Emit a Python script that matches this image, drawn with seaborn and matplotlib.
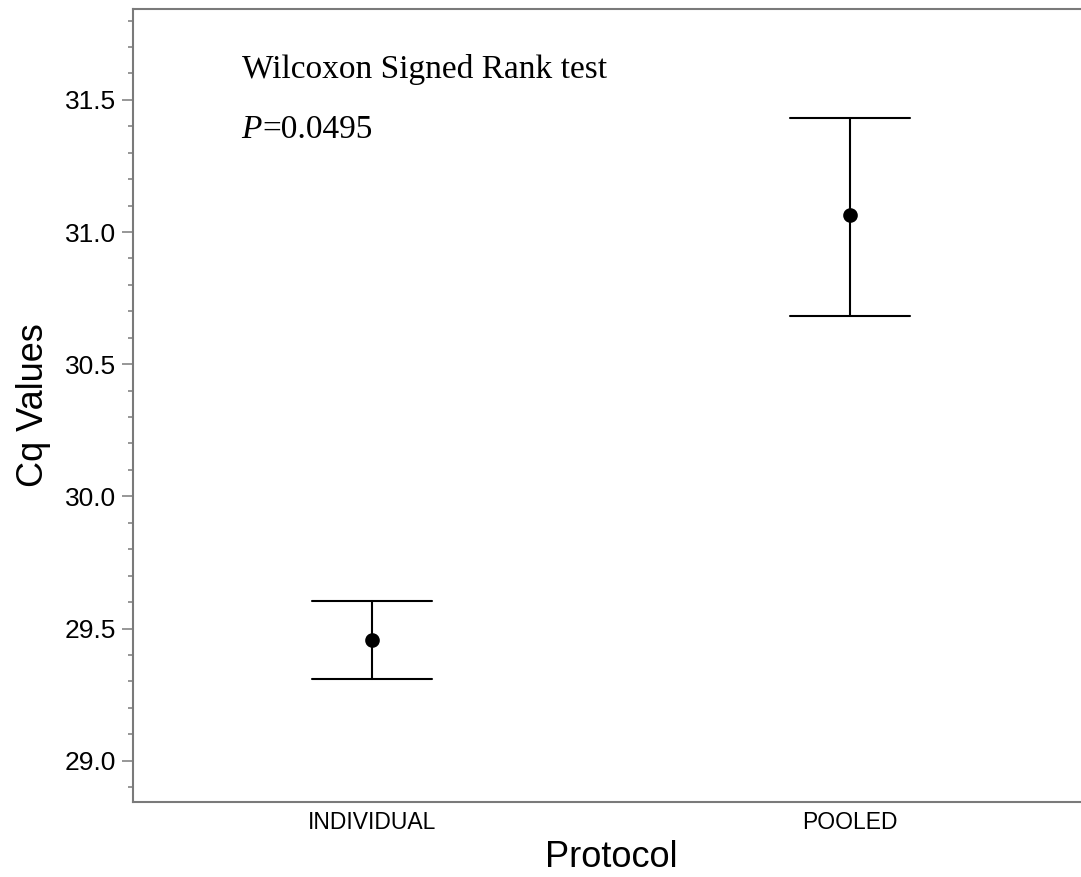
import pandas as pd
import seaborn as sns
import matplotlib.pyplot as plt
from matplotlib.ticker import MultipleLocator

# values (mean with lower / upper whisker)
protocols = ["INDIVIDUAL", "POOLED"]
cq_mean = [29.457, 31.065]
cq_lower = [29.308, 30.684]
cq_upper = [29.604, 31.433]

# long table: median of [lower, mean, upper] is the mean, the full range is the bar
rows = []
for p, lo, m, hi in zip(protocols, cq_lower, cq_mean, cq_upper):
    for v in (lo, m, hi):
        rows.append({"Protocol": p, "Cq": v})
df = pd.DataFrame(rows)

sns.set_style("white")
plt.rcParams["font.family"] = ["Liberation Sans", "DejaVu Sans"]
plt.rcParams["text.color"] = "black"
plt.rcParams["axes.labelcolor"] = "black"
plt.rcParams["xtick.labelcolor"] = "black"
plt.rcParams["ytick.labelcolor"] = "black"

fig = plt.figure(figsize=(10.81, 8.77), dpi=100)
ax = fig.add_axes([0.12304, 0.0859, 0.8842, 0.9033])

sns.pointplot(data=df, x="Protocol", y="Cq", order=protocols,
              estimator="median", errorbar=("pi", 100), capsize=0.25,
              color="black", linestyle="none", markers="o",
              markersize=8.5, err_kws={"linewidth": 1.5}, ax=ax)

ax.set_xlim(-0.5, 1.5)
ax.set_ylim(28.845, 31.842)
ax.yaxis.set_major_locator(MultipleLocator(0.5))
ax.yaxis.set_minor_locator(MultipleLocator(0.1))
ax.yaxis.set_major_formatter(plt.FormatStrFormatter("%.1f"))

spine_col = "#7a7a7a"
for s in ax.spines.values():
    s.set_color(spine_col)
    s.set_linewidth(1.5)
    s.set_visible(True)

ax.tick_params(axis="y", which="major", length=8, width=1.1, color=spine_col,
               labelsize=19, pad=4, left=True)
ax.tick_params(axis="y", which="minor", length=3.6, width=1.1, color=spine_col, left=True)
ax.tick_params(axis="x", length=0, labelsize=16.5, pad=7)

ax.set_xlabel("Protocol", fontsize=26)
ax.set_ylabel("Cq Values", fontsize=26)
ax.xaxis.set_label_coords(0.5, -0.048)
ax.yaxis.set_label_coords(-0.086, 0.5)

serif = ["Liberation Serif", "DejaVu Serif"]
ax.text(0.1137, 0.913, "Wilcoxon Signed Rank test", transform=ax.transAxes,
        family=serif, fontsize=24, va="baseline")
t = ax.text(0.1137, 0.8374, "P", transform=ax.transAxes,
            family=serif, style="italic", fontsize=24, va="baseline")
ax.annotate("=0.0495", xy=(1, 0), xycoords=t, va="bottom",
            family=serif, fontsize=24)

fig.savefig("out.png", dpi=100)
plt.close(fig)
